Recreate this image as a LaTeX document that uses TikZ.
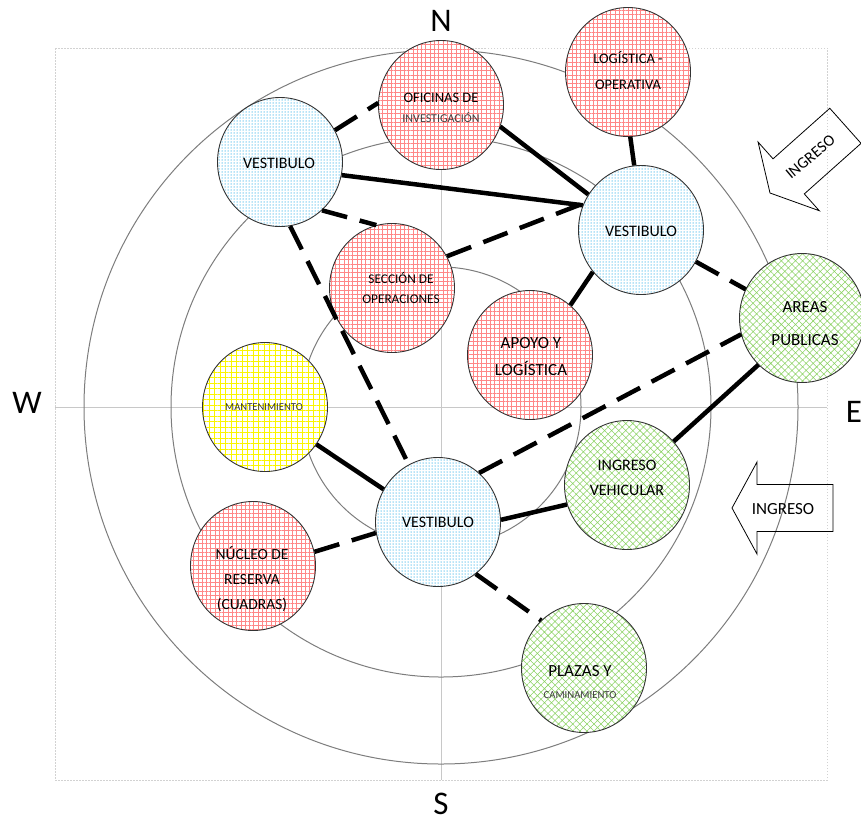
\documentclass[tikz,border=0pt]{standalone}
\usepackage{fontspec}
\setmainfont{Carlito}
\usetikzlibrary{shapes.geometric,patterns.meta}
\definecolor{ringc}{RGB}{125,125,125}
\definecolor{axisc}{RGB}{200,200,200}
\definecolor{framec}{RGB}{210,210,210}
\definecolor{pinkl}{RGB}{255,135,135}
\definecolor{bluel}{RGB}{110,200,240}
\definecolor{greenl}{RGB}{140,210,100}
\definecolor{yell}{RGB}{250,245,0}
\begin{document}
\begin{tikzpicture}[x=1pt,y=-1pt,
  bub/.style={ellipse, draw=black!80, line width=0.9pt, minimum width=125pt, minimum height=129pt, inner sep=0pt},
  redb/.style={bub, preaction={fill=white}, pattern={Hatch[distance=4.3pt, angle=0, line width=0.45pt]}, pattern color=pinkl},
  blueb/.style={bub, preaction={fill=white}, pattern={Dots[distance=3pt, radius=0.75pt]}, pattern color=bluel},
  greenb/.style={bub, preaction={fill=white}, pattern={Hatch[distance=5pt, angle=45, line width=0.55pt]}, pattern color=greenl},
  yellb/.style={bub, preaction={fill=white}, pattern={Hatch[distance=5.5pt, angle=0, line width=0.7pt]}, pattern color=yell},
  txt/.style={align=center, inner sep=0pt, text=black},
  conn/.style={line width=4.5pt, black},
  dconn/.style={conn, dash pattern=on 26pt off 13pt},
  ring/.style={ringc, line width=1pt},
  compass/.style={font=\fontsize{33}{33}\selectfont, inner sep=0pt},
  arrowbox/.style={draw=black, line width=0.8pt, line join=miter}
]
\useasboundingbox (0,0) rectangle (861,823);

% frame and axes
\draw[framec, line width=1pt, dash pattern=on 1.5pt off 1.5pt] (55,48) rectangle (827,780);
\draw[axisc, line width=0.9pt] (55,407) -- (827,407);
\draw[axisc, line width=0.9pt] (441,48) -- (441,780);

% rings
\draw[ring] (441,407) circle[radius=140pt];
\draw[ring] (441,407) circle[radius=270pt];
\draw[ring] (441,407) circle[radius=357pt];

% compass labels
\node[compass] (cn) at (441,21) {N};
\node[compass] (cs) at (441,804) {S};
\node[compass] (cw) at (27,403) {W};
\node[compass] (ce) at (854,412) {E};

% bubbles
\node[redb] (ofi) at (441,105) {};
\node[redb] (log) at (628,72) {};
\node[blueb] (vtl) at (280,162) {};
\node[blueb] (vr) at (641,230) {};
\node[redb] (sec) at (392,288) {};
\node[redb] (apo) at (530,355) {};
\node[greenb] (are) at (802,318) {};
\node[yellb] (man) at (265,407) {};
\node[blueb] (vb) at (438,522) {};
\node[greenb] (ing) at (627,485) {};
\node[redb] (nuc) at (253,566) {};
\node[greenb] (pla) at (584,668) {};

% texts
\node[txt, font=\fontsize{12}{20}\selectfont] (tofi) at (441,108) {{\fontsize{14.5}{20}\selectfont OFICINAS DE}\\ \textcolor{black!75}{INVESTIGACIÓN}};
\node[txt, font=\fontsize{14.5}{26}\selectfont] (tlog) at (628,70) {LOGÍSTICA -\\ OPERATIVA};
\node[txt, font=\fontsize{16}{20}\selectfont] (tvtl) at (279,163) {VESTIBULO};
\node[txt, font=\fontsize{16}{20}\selectfont] (tvr) at (641,231) {VESTIBULO};
\node[txt, font=\fontsize{13.3}{20}\selectfont] (tsec) at (401,288) {SECCIÓN DE\\ OPERACIONES};
\node[txt, font=\fontsize{17}{27}\selectfont] (tapo) at (531,357) {APOYO Y\\ LOGÍSTICA};
\node[txt, font=\fontsize{17}{33}\selectfont] (tare) at (805,324) {AREAS\\ PUBLICAS};
\node[txt, font=\fontsize{10.6}{12}\selectfont, text=black!80] (tman) at (264,407) {MANTENIMIENTO};
\node[txt, font=\fontsize{16}{25}\selectfont] (ting) at (627,478) {INGRESO\\ VEHICULAR};
\node[txt, font=\fontsize{16}{20}\selectfont] (tvb) at (438,522) {VESTIBULO};
\node[txt, font=\fontsize{15.5}{25}\selectfont] (tnuc) at (252,579) {NÚCLEO DE\\ RESERVA\\ (CUADRAS)};
\node[txt, font=\fontsize{10.7}{22}\selectfont] (tpla) at (580,682) {{\fontsize{17}{22}\selectfont PLAZAS Y}\\ \textcolor{black!75}{CAMINAMIENTO}};

% connectors
\draw[dconn] (vtl.30) -- (ofi.178);
\draw[conn] (vtl.-12) -- (vr.157);
\draw[conn] (ofi.-20) -- (vr.146);
\draw[conn] (log.-88) -- (vr.96);
\draw[dconn] (sec.30) -- (vr.155);
\draw[conn] (vr.-139) -- (apo.51);
\draw[dconn] (vr.-30) -- (are.153);
\draw[conn] (are.-133) -- (ing.43);
\draw[dconn] (vtl.-81) -- (vb.117);
\draw[dconn] (vtl.-49) -- (sec.104);
\draw[conn] (man.-36) -- (vb.149);
\draw[dconn] (vb.50) -- (are.-165);
\draw[conn] (vb.2) -- (ing.-162);
\draw[dconn] (nuc.13) -- (vb.-170);
\draw[dconn] (vb.-54) -- (pla.132);

% INGRESO arrows
\begin{scope}[shift={(770,193)}, rotate=41.7]
  \draw[arrowbox] (0,0) -- (25,-46) -- (25,-23.5) -- (101,-23.5) -- (101,23.5) -- (25,23.5) -- (25,46) -- cycle;
  \node[txt, font=\fontsize{16}{18}\selectfont, rotate=40] (ting1) at (54,0) {INGRESO};
\end{scope}
\begin{scope}[shift={(732,508)}]
  \draw[arrowbox] (0,0) -- (25,-46) -- (25,-23.5) -- (101,-23.5) -- (101,23.5) -- (25,23.5) -- (25,46) -- cycle;
  \node[txt, font=\fontsize{17}{20}\selectfont] (ting2) at (51,1) {INGRESO};
\end{scope}
\end{tikzpicture}
\end{document}
